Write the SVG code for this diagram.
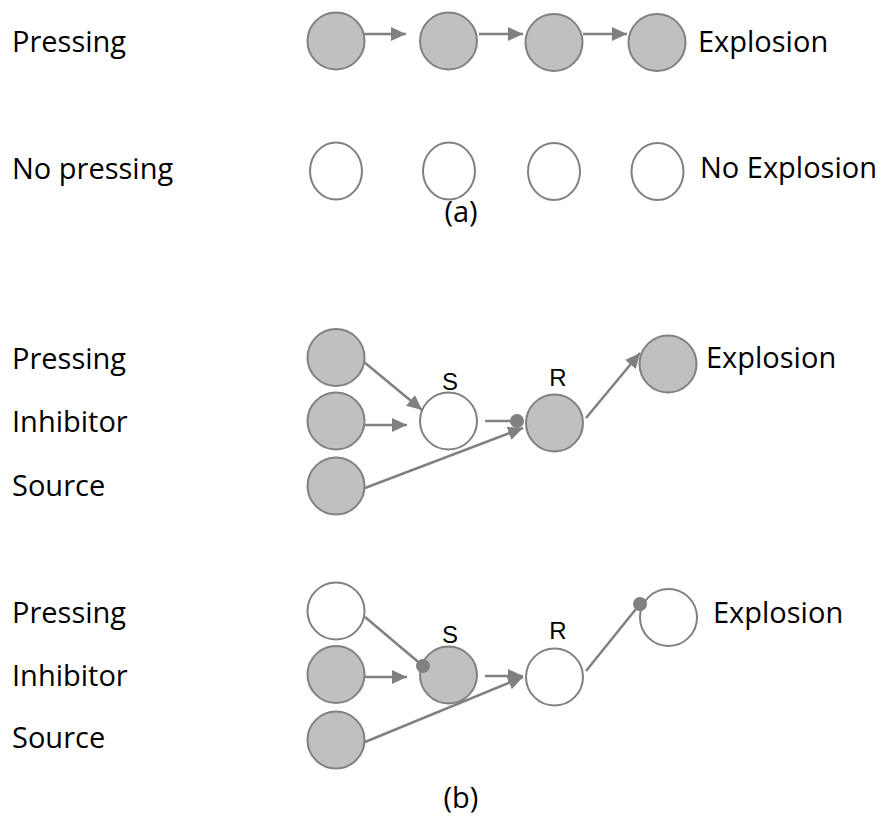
<svg xmlns="http://www.w3.org/2000/svg" width="885" height="822" viewBox="0 0 885 822">
<style>
.lbl{font-family:"Open Sans","Liberation Sans",sans-serif;font-size:29px;fill:#000}
.sr{font-family:"Liberation Sans",Arial,sans-serif;font-size:24px;fill:#000;text-anchor:middle}
.on{fill:#c0c0c0;stroke:#808080;stroke-width:2}
.off{fill:#fff;stroke:#808080;stroke-width:2}
.c{stroke:#808080;stroke-width:2.5;fill:none}
.a{marker-end:url(#arr)}
.d{marker-end:url(#dot)}
</style>
<defs>
<marker id="arr" markerUnits="userSpaceOnUse" markerWidth="16" markerHeight="15" refX="15" refY="7" orient="auto" viewBox="0 0 16 15">
<path d="M0,0 L15,7 L0,14 z" fill="#808080"/>
</marker>
<marker id="dot" markerUnits="userSpaceOnUse" markerWidth="16" markerHeight="16" refX="8" refY="8" orient="auto" viewBox="0 0 16 16">
<circle cx="8" cy="8" r="7" fill="#808080"/>
</marker>
</defs>
<rect width="885" height="822" fill="#fff"/>

<!-- labels -->
<g id="labels">
<text class="lbl" x="12" y="52">Pressing</text>
<text class="lbl" x="12" y="179">No pressing</text>
<text class="lbl" x="698" y="52">Explosion</text>
<text class="lbl" x="700" y="178">No Explosion</text>
<text class="lbl" x="461" y="222" text-anchor="middle">(a)</text>
<text class="lbl" x="12" y="369">Pressing</text>
<text class="lbl" x="12" y="432">Inhibitor</text>
<text class="lbl" x="12" y="496">Source</text>
<text class="lbl" x="706" y="368">Explosion</text>
<text class="lbl" x="12" y="623">Pressing</text>
<text class="lbl" x="12" y="686">Inhibitor</text>
<text class="lbl" x="12" y="748">Source</text>
<text class="lbl" x="713" y="623">Explosion</text>
<text class="lbl" x="461" y="808" text-anchor="middle">(b)</text>
<text class="sr" x="450" y="390">S</text>
<text class="sr" x="558" y="386">R</text>
<text class="sr" x="450" y="643">S</text>
<text class="sr" x="558" y="639">R</text>
</g>

<!-- row (a) -->
<g id="a-p1"><circle class="on" cx="336" cy="41" r="28.5"/></g>
<g id="a-p2"><circle class="on" cx="448.5" cy="41" r="28.5"/></g>
<g id="a-p3"><circle class="on" cx="554" cy="42.5" r="28.5"/></g>
<g id="a-p4"><circle class="on" cx="657" cy="42.5" r="28.5"/></g>
<g id="a-n1"><ellipse class="off" cx="336" cy="171" rx="26" ry="28.5"/></g>
<g id="a-n2"><ellipse class="off" cx="449" cy="171" rx="26" ry="28.5"/></g>
<g id="a-n3"><ellipse class="off" cx="554" cy="171.5" rx="26" ry="28.5"/></g>
<g id="a-n4"><ellipse class="off" cx="657.5" cy="171.5" rx="26" ry="28.5"/></g>

<!-- section (b) top -->
<g id="b1-press"><circle class="on" cx="336" cy="357.5" r="28.5"/></g>
<g id="b1-inhib"><circle class="on" cx="336" cy="421" r="28.5"/></g>
<g id="b1-src"><circle class="on" cx="336" cy="486" r="28.5"/></g>
<g id="b1-S"><circle class="off" cx="448.5" cy="421" r="28.5"/></g>
<g id="b1-R"><circle class="on" cx="554.5" cy="423" r="28.5"/></g>
<g id="b1-E"><circle class="on" cx="668" cy="364" r="28.5"/></g>

<!-- section (b) bottom -->
<g id="b2-press"><circle class="off" cx="336" cy="611" r="28.5"/></g>
<g id="b2-inhib"><circle class="on" cx="336" cy="674.5" r="28.5"/></g>
<g id="b2-src"><circle class="on" cx="336" cy="740" r="28.5"/></g>
<g id="b2-S"><circle class="on" cx="448.5" cy="675" r="28.5"/></g>
<g id="b2-R"><circle class="off" cx="554.5" cy="677" r="28.5"/></g>
<g id="b2-E"><circle class="off" cx="668.5" cy="617.5" r="28.5"/></g>

<g id="connectors">
<line class="c a" x1="364" y1="34" x2="406" y2="34"/>
<line class="c a" x1="479" y1="34" x2="523" y2="34"/>
<line class="c a" x1="583" y1="34" x2="627" y2="34"/>

<line class="c a" x1="364" y1="362" x2="422" y2="410"/>
<line class="c a" x1="364" y1="425" x2="407" y2="425"/>
<line class="c d" x1="485" y1="421" x2="517" y2="421"/>
<line class="c a" x1="365" y1="488" x2="523" y2="428"/>
<line class="c a" x1="586" y1="418" x2="640" y2="353"/>

<line class="c d" x1="365" y1="617" x2="423" y2="666"/>
<line class="c a" x1="364" y1="677" x2="407" y2="677"/>
<line class="c a" x1="485" y1="676" x2="523" y2="676"/>
<line class="c a" x1="365" y1="742" x2="523" y2="677"/>
<line class="c d" x1="586" y1="671" x2="640" y2="604"/>
</g>
</svg>
